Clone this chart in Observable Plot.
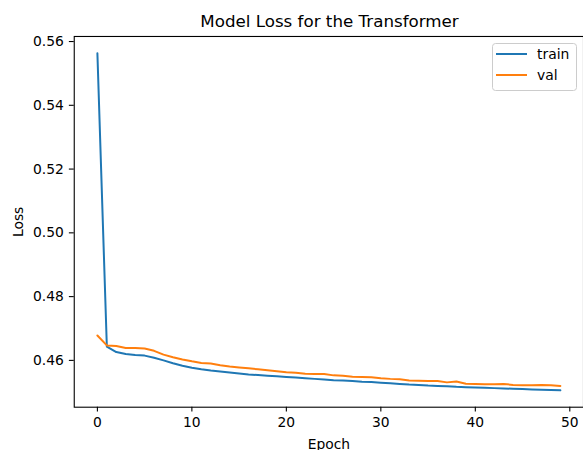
<!DOCTYPE html>
<html><head><meta charset="utf-8">
<script src="https://cdn.jsdelivr.net/npm/d3@7"></script>
<script src="https://cdn.jsdelivr.net/npm/@observablehq/plot@0.6"></script>
<style>
body{margin:0;background:#fff;overflow:hidden;font-family:"DejaVu Sans",sans-serif;}
#wrap{position:relative;width:583px;height:450px;overflow:hidden;background:#fff;}
#title{height:30px;position:relative;}
#title span{position:absolute;left:74px;width:511px;text-align:center;top:13px;font-size:16.7px;line-height:16.7px;color:#000;white-space:nowrap;}
#legend{position:absolute;left:492px;top:43px;}
</style>
</head><body>
<div id="wrap">
  <div id="title"><span>Model Loss for the Transformer</span></div>
  <div id="chart"></div>
  <div id="legend"></div>
</div>
<script>
const seriesNames = ["train", "val"];
const seriesColors = ["#1f77b4", "#ff7f0e"];
const epochs = [0,1,2,3,4,5,6,7,8,9,10,11,12,13,14,15,16,17,18,19,20,21,22,23,24,25,26,27,28,29,30,31,32,33,34,35,36,37,38,39,40,41,42,43,44,45,46,47,48,49];
const trainLoss = [0.5563,0.4643,0.4626,0.4620,0.4617,0.4615,0.4608,0.4600,0.4591,0.4583,
  0.4577,0.4572,0.4568,0.4565,0.4562,0.4559,0.4556,0.4554,0.4552,0.4550,
  0.4548,0.4546,0.4544,0.4542,0.4540,0.4538,0.4537,0.4535,0.4533,0.4532,
  0.4530,0.4528,0.4526,0.4524,0.4523,0.4521,0.4520,0.4519,0.4517,0.4516,
  0.4515,0.4514,0.4513,0.4512,0.4511,0.4510,0.4509,0.4508,0.4507,0.4506];
const valLoss = [0.4678,0.4647,0.4645,0.4639,0.4639,0.4637,0.4630,0.4618,0.4610,0.4603,
  0.4597,0.4592,0.4590,0.4585,0.4581,0.4578,0.4575,0.4572,0.4569,0.4566,
  0.4563,0.4561,0.4558,0.4557,0.4557,0.4553,0.4552,0.4549,0.4548,0.4547,
  0.4544,0.4542,0.4541,0.4537,0.4536,0.4535,0.4535,0.4531,0.4534,0.4527,
  0.4526,0.4525,0.4525,0.4526,0.4523,0.4522,0.4522,0.4523,0.4522,0.4520];
const xTicks = [0,10,20,30,40,50];
const yTicks = [0.46,0.48,0.50,0.52,0.54,0.56];

const rows = [];
[trainLoss, valLoss].forEach((vals, i) => {
  vals.forEach((v, j) => rows.push({series: seriesNames[i], epoch: epochs[j], loss: v}));
});

// matplotlib-style 5% margins
const pad = (ext) => { const r = ext[1] - ext[0]; return [ext[0] - 0.05 * r, ext[1] + 0.05 * r]; };
const xDomain = pad(d3.extent(epochs));
const yDomain = pad(d3.extent(rows, d => d.loss));

const chart = Plot.plot({
  width: 585, height: 420,
  marginLeft: 74, marginRight: 0, marginTop: 6, marginBottom: 42,
  style: {fontFamily: "DejaVu Sans", fontSize: "13.9px", color: "#000", background: "transparent", overflow: "visible"},
  x: {domain: xDomain},
  y: {domain: yDomain},
  color: {domain: seriesNames, range: seriesColors},
  marks: [
    Plot.line(rows, {x: "epoch", y: "loss", z: "series", stroke: "series", strokeWidth: 2}),
    Plot.frame({stroke: "#000", strokeWidth: 1.1}),
    Plot.axisX({ticks: xTicks, tickFormat: "d", tickSize: 4.9, tickPadding: 5, strokeWidth: 1.1,
      label: "Epoch", labelAnchor: "center", labelArrow: "none", labelOffset: 42}),
    Plot.axisY({ticks: yTicks, tickFormat: ".2f", tickSize: 4.9, tickPadding: 5.5, strokeWidth: 1.1,
      label: "Loss", labelAnchor: "center", labelArrow: "none", labelOffset: 61})
  ]
});
document.getElementById("chart").appendChild(chart);

// legend
const lg = d3.select("#legend").append("svg").attr("width", 86).attr("height", 49)
  .style("font-family", "DejaVu Sans").style("font-size", "13.9px");
lg.append("rect").attr("x", 0.5).attr("y", 0.5).attr("width", 84).attr("height", 47)
  .attr("rx", 3).attr("fill", "#fff").attr("fill-opacity", 0.8).attr("stroke", "#cccccc");
seriesNames.forEach((n, i) => {
  const yy = 11 + i * 21;
  lg.append("line").attr("x1", 4).attr("x2", 35).attr("y1", yy).attr("y2", yy)
    .attr("stroke", seriesColors[i]).attr("stroke-width", 2);
  lg.append("text").attr("x", 45).attr("y", yy).attr("dy", "0.35em").attr("fill", "#000").text(n);
});
</script>
</body></html>
